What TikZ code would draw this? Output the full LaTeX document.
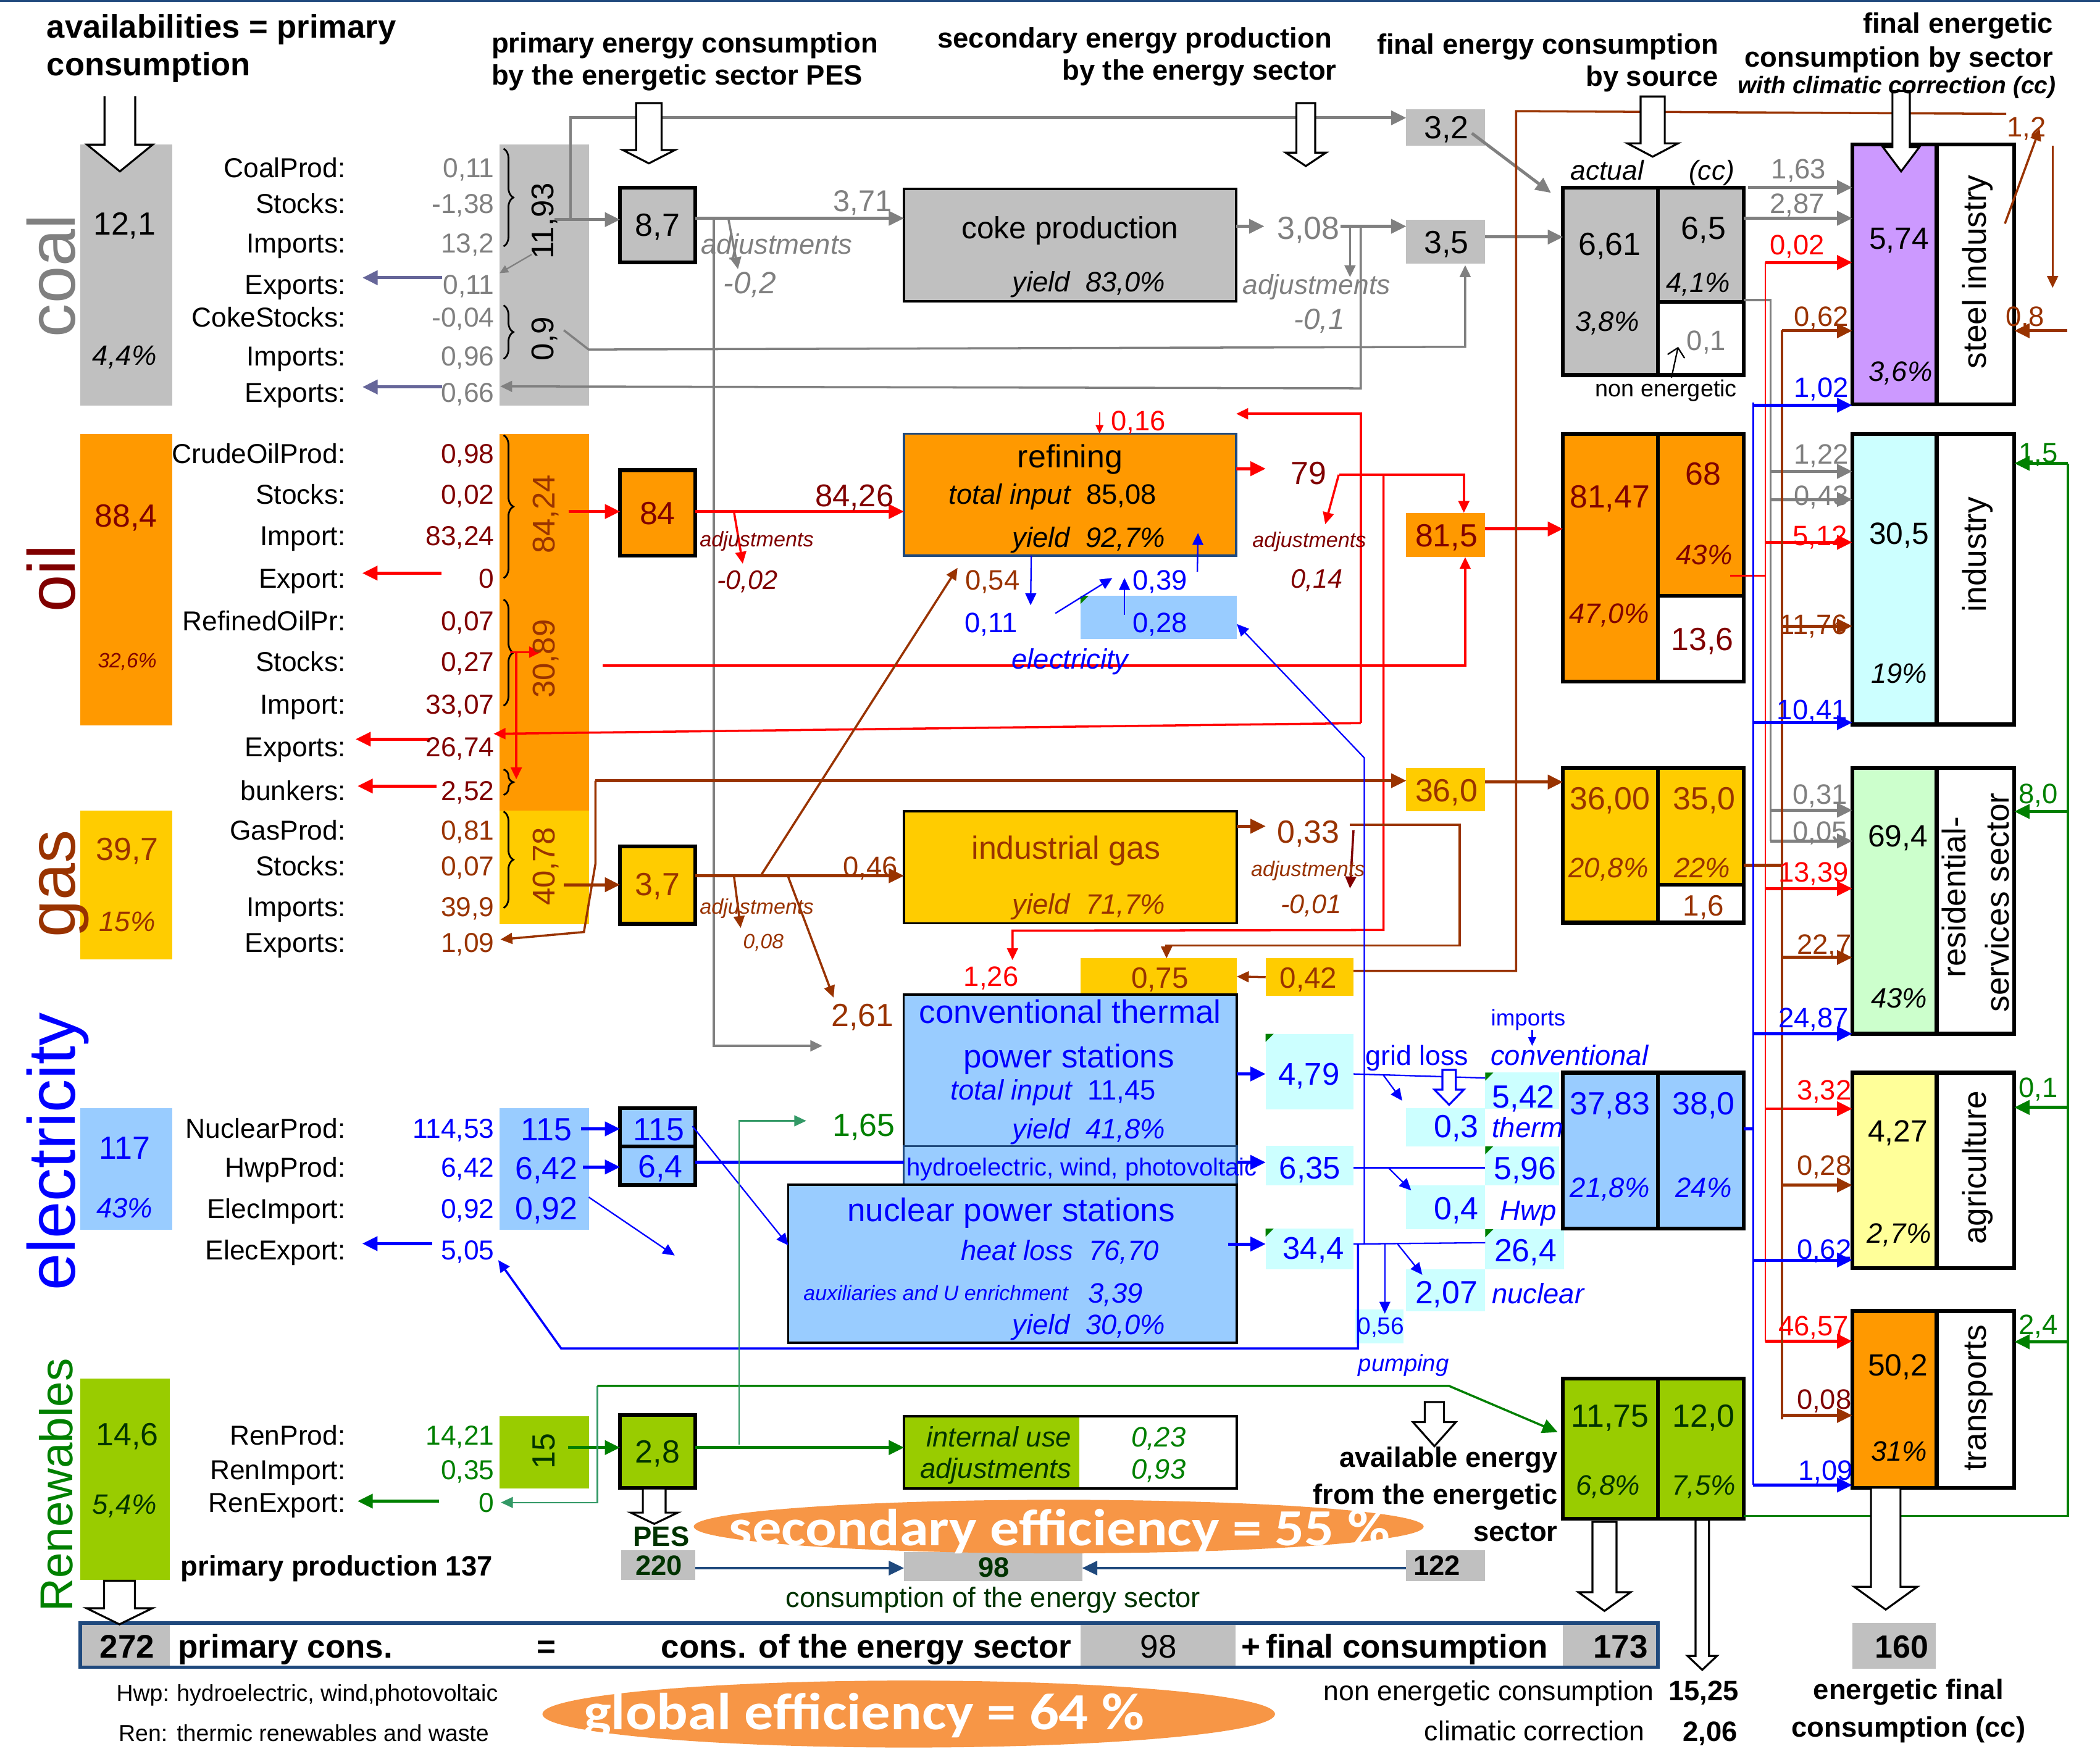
\documentclass[tikz,border=0pt]{standalone}
\usepackage{fontspec}
\setmainfont{Liberation Sans}
\newfontfamily\effont{Carlito}[FakeStretch=1.12]
\usetikzlibrary{arrows.meta,decorations.pathreplacing,shapes.geometric}
\newdimen\pxu \pxu=0.6155pt
\newcommand\fs[1]{\fontsize{#1\pxu}{1.25\dimexpr#1\pxu\relax}\selectfont}
\definecolor{cgray}{HTML}{808080}
\definecolor{boxgray}{HTML}{C0C0C0}
\definecolor{corange}{HTML}{FF9900}
\definecolor{cmaroon}{HTML}{800000}
\definecolor{cred}{HTML}{FF0000}
\definecolor{cgold}{HTML}{FFCC00}
\definecolor{cbrown}{HTML}{993300}
\definecolor{lblue}{HTML}{99CCFF}
\definecolor{cblue}{HTML}{0000FF}
\definecolor{lcyan}{HTML}{CCFFFF}
\definecolor{lgreen}{HTML}{99CC00}
\definecolor{cgreen}{HTML}{008000}
\definecolor{dgreen}{HTML}{003300}
\definecolor{cpurple}{HTML}{CC99FF}
\definecolor{mint}{HTML}{CCFFCC}
\definecolor{lyellow}{HTML}{FFFF99}
\definecolor{slate}{HTML}{666699}
\definecolor{effor}{HTML}{F79646}
\definecolor{navy}{HTML}{1F497D}
\definecolor{tealg}{HTML}{339966}
\newcommand\bx[6]{\node[#6,anchor=north west,inner sep=0pt,outer sep=0pt,minimum width={(#4-#2)*0.2169mm},minimum height={(#5-#3)*0.2169mm}] (#1) at (#2,#3) {};}
\newcommand\hol[8]{\path[fill=white,draw=#8,line width=0.9pt,line join=miter] (#2-#3,#5) -- (#2-#3,#6) -- (#2-#4,#6) -- (#2,#7) -- (#2+#4,#6) -- (#2+#3,#6) -- (#2+#3,#5) -- cycle; \coordinate (#1) at (#2,#7);}
\newcommand\holo[8]{\fill[white] (#2-#3,#5) -- (#2-#3,#6) -- (#2-#4,#6) -- (#2,#7) -- (#2+#4,#6) -- (#2+#3,#6) -- (#2+#3,#5) -- cycle; \draw[#8,line width=0.9pt,line join=miter] (#2-#3,#5) -- (#2-#3,#6) -- (#2-#4,#6) -- (#2,#7) -- (#2+#4,#6) -- (#2+#3,#6) -- (#2+#3,#5); \coordinate (#1) at (#2,#7);}
\newcommand\ctri[2]{\fill[cgreen] (#1,#2) -- (#1+6,#2) -- (#1,#2+6) -- cycle;}
\begin{document}
\begin{tikzpicture}[x=0.2169mm,y=-0.2169mm,
 fz/.style={inner sep=0pt,outer sep=0pt,font=\fs{#1},text height={0.716*#1*0.6155pt},text depth=0pt},
 fzb/.style={fz=#1,font=\fs{#1}\bfseries},
 fzi/.style={fz=#1,font=\fs{#1}\itshape},
 fzbi/.style={fz=#1,font=\fs{#1}\bfseries\itshape},
 lb/.style={fz=20.5,anchor=east},
 rot/.style={rotate=90},
 lk/.style={line width=1.4pt},
 lm/.style={line width=1.0pt},
 lt/.style={line width=0.65pt},
 arb/.style={-{Triangle[length=7pt,width=6.5pt]}},
 ar/.style={-{Triangle[length=5.5pt,width=5pt]}},
 ars/.style={-{Triangle[length=4pt,width=3.6pt]}},
 brc/.style={decorate,decoration={brace,amplitude=4.5pt},line width=0.8pt},
 bxk/.style={draw=black,line width=1.8pt},
 bxm/.style={draw=black,line width=1pt}]
\useasboundingbox (0,0) rectangle (1568,1306);
\fill[white] (0,0) rectangle (1568,1306);
\draw[navy,line width=0.8pt] (0,0.6) -- (1568,0.6);

% ---------------- boxes: primary
\bx{coalL}{60}{108}{128.5}{303}{fill=boxgray}
\bx{coalC}{373}{108}{440}{303}{fill=boxgray}
\bx{oilL}{60}{324}{128.5}{541.7}{fill=corange}
\bx{oilC}{373}{324}{440}{605.4}{fill=corange}
\bx{gasL}{60}{605.4}{128.6}{716.6}{fill=cgold}
\bx{gasC}{373}{605.4}{440}{690}{fill=cgold}
\bx{elL}{60}{827.6}{128.5}{918.5}{fill=lblue}
\bx{elC}{373}{827.6}{440}{918.5}{fill=lblue}
\bx{rnL}{60}{1029.5}{127}{1180}{fill=lgreen}
\bx{rnC}{373}{1057.6}{440}{1111.6}{fill=lgreen}
% PES boxes
\bx{b87}{463}{140}{519}{196}{fill=boxgray,bxk}
\bx{b84}{463}{351}{519}{415}{fill=corange,bxk}
\bx{b37}{463}{632}{519}{690}{fill=cgold,bxk}
\bx{b115}{463}{827.6}{519}{856}{fill=lblue,bxk}
\bx{b64}{463}{856}{519}{885}{fill=lblue,bxk}
\bx{b28}{463}{1056.6}{519}{1111}{fill=lgreen,bxk}
% transformation boxes
\bx{coke}{675}{141}{923}{225}{fill=boxgray,bxm}
\bx{ref}{675}{323.8}{923}{415}{fill=corange,draw=navy,line width=1pt}
\bx{c028}{806.7}{445}{923.5}{477}{fill=lblue}
\bx{igas}{675}{605.8}{923.5}{689.5}{fill=cgold,bxm}
\bx{b075}{806.7}{715.7}{923.5}{742.8}{fill=cgold}
\bx{b042}{945}{715.7}{1010.6}{743.7}{fill=cgold}
\bx{conv}{674.8}{742.8}{923.5}{856}{fill=lblue,bxm}
\bx{hyd}{674.8}{856}{923.5}{885}{fill=lblue,draw=navy,line width=1pt}
\bx{nuc}{588.6}{884.7}{923.5}{1002.8}{fill=lblue,bxm}
\bx{intL}{675}{1057.6}{806}{1111.6}{fill=lgreen}
\bx{intB}{675}{1057.6}{923.5}{1111.6}{bxm}
% small cells
\bx{b32}{1050}{81.6}{1109}{109}{fill=boxgray}
\bx{b35}{1050}{164}{1109}{197}{fill=boxgray}
\bx{b815}{1050}{383}{1109}{416}{fill=corange}
\bx{b360}{1050}{573.6}{1109}{606}{fill=cgold}
\bx{c479}{945}{772}{1010.6}{828.5}{fill=lcyan}
\bx{c635}{945}{855.7}{1010.6}{885}{fill=lcyan}
\bx{c344}{945}{917.5}{1010.6}{948}{fill=lcyan}
\bx{c03}{1050}{827.6}{1109}{856}{fill=lcyan}
\bx{c542}{1109}{801}{1164}{828}{fill=lcyan}
\bx{c596}{1109}{856}{1164}{885}{fill=lcyan}
\bx{c04}{1050}{885}{1109}{918}{fill=lcyan}
\bx{c264}{1109}{918}{1168}{948}{fill=lcyan}
\bx{c207}{1050}{948}{1109}{979}{fill=lcyan}
\bx{c056}{1012}{978}{1048}{1003}{fill=lcyan}
% final by source
\bx{csL}{1167}{140}{1238}{280}{fill=boxgray,bxk}
\bx{csRU}{1238}{140}{1302}{225.5}{fill=boxgray,bxk}
\bx{csRL}{1238}{225.5}{1302}{280}{fill=white,bxk}
\bx{osL}{1167}{324}{1238}{509}{fill=corange,bxk}
\bx{osRU}{1238}{324}{1302}{445}{fill=corange,bxk}
\bx{osRL}{1238}{445}{1302}{509}{fill=white,bxk}
\bx{gsL}{1167}{573.6}{1238}{689}{fill=cgold,bxk}
\bx{gsRU}{1238}{573.6}{1302}{660.6}{fill=cgold,bxk}
\bx{gsRL}{1238}{660.6}{1302}{689}{fill=white,bxk}
\bx{esL}{1167}{801}{1238}{917.5}{fill=lblue,bxk}
\bx{esR}{1238}{801}{1302}{917.5}{fill=lblue,bxk}
\bx{rsL}{1167}{1029.5}{1238}{1134}{fill=lgreen,bxk}
\bx{rsR}{1238}{1029.5}{1302}{1134}{fill=lgreen,bxk}
% sectors
\bx{stL}{1383}{108}{1446}{302}{fill=cpurple,bxk}
\bx{stR}{1446}{108}{1504}{302}{fill=white,bxk}
\bx{inL}{1383}{324}{1446}{541}{fill=lcyan,bxk}
\bx{inR}{1446}{324}{1504}{541}{fill=white,bxk}
\bx{reL}{1383}{573.6}{1446}{772}{fill=mint,bxk}
\bx{reR}{1446}{573.6}{1504}{772}{fill=white,bxk}
\bx{agL}{1383}{801}{1446}{947}{fill=lyellow,bxk}
\bx{agR}{1446}{801}{1504}{947}{fill=white,bxk}
\bx{trL}{1383}{979}{1446}{1111}{fill=corange,bxk}
\bx{trR}{1446}{979}{1504}{1111}{fill=white,bxk}
% bottom cells
\bx{b220}{464}{1157.7}{519}{1180}{fill=boxgray}
\bx{b98a}{675}{1159}{808}{1180.5}{fill=boxgray}
\bx{b122}{1050}{1157.7}{1109}{1180.5}{fill=boxgray}
\bx{b160}{1383}{1212}{1445.5}{1246}{fill=boxgray}
\bx{g272}{60}{1212}{127}{1245}{fill=boxgray}
\bx{g98}{806.7}{1212}{922.6}{1245}{fill=boxgray}
\bx{g173}{1167}{1212}{1238}{1245}{fill=boxgray}
\bx{band}{60}{1212}{1238}{1245}{draw=navy,line width=1.6pt}

% comment markers
\ctri{806.7}{445} \ctri{945}{772} \ctri{945}{917.5} \ctri{1109}{801} \ctri{1109}{856} \ctri{1109}{918}

% braces
\draw[brc] (376,111) -- (376,184);
\draw[brc] (376,228) -- (376,268);
\draw[brc] (376,325) -- (376,431.7);
\draw[brc] (376,447.7) -- (376,527);
\draw[brc] (376,574.6) -- (376,593.6);
\draw[brc] (376,606) -- (376,678);

% ---------------- coal connectors
\draw[cgray,lk,arb] (414,164) -- (b87.west|-0,164);
\draw[cgray,lk,arb] (426,164) -- (426,88) -- (b32.west|-0,88);
\draw[cgray,lt,ars] (397,190) -- (373,204);
\draw[slate,lk,arb] (330,207.4) -- (270.6,207.4);
\draw[slate,lk,arb] (330,289) -- (270.6,289);
\draw[cgray,lm,ar] (421,246.6) -- (439.5,261) -- (1094,259) -- (1094,198);
\draw[cgray,lk,arb] (b87.east|-0,163) -- (coke.west|-0,163);
\draw[cgray,lm,ar] (544,164) -- (551,201);
\draw[cgray,lm,ar] (533,163) -- (533,781) -- (614,781);
\draw[cgray,lk,arb] (coke.east|-0,169) -- (944,169);
\draw[cgray,lk,arb] (1001,169) -- (b35.west|-0,169);
\draw[cgray,lm,ar] (1016,169) -- (1016,290) -- (373.5,288.5);
\draw[cgray,lm,ar] (1008,169) -- (1008,207);
\draw[cgray,lk,arb] (1099,99.5) -- (1158,144);
\draw[cgray,lk,arb] (b35.east|-0,177) -- (csL.west|-0,177);
\draw[cgray,lk,arb] (1305,140) -- (stL.west|-0,140);
\draw[cgray,lk,arb] (1302,163) -- (stL.west|-0,163);
\draw[cgray,lm] (1302,224) -- (1322,224) -- (1322,628);
\foreach \yy/\bb in {352/inL,373/inL,605/reL,628/reL}{\draw[cgray,lk,arb] (1322,\yy) -- (\bb.west|-0,\yy);}

% ---------------- oil connectors
\draw[cred,lk,arb] (424.4,382) -- (b84.west|-0,382);
\draw[cred,lk,arb] (b84.east|-0,382) -- (ref.west|-0,382);
\draw[cred,lm,ar] (548,382) -- (554.6,421);
\draw[cred,lk,arb] (329.6,428) -- (270.5,428);
\draw[cred,lk,arb] (321,552) -- (265.5,552);
\draw[cred,lk,arb] (326,587) -- (267,587);
\draw[cred,lm,ar] (381,487) -- (404,487);
\draw[cred,lm,ar] (385.5,487.8) -- (385.5,582);
\draw[cred,lk,arb] (ref.east|-0,350) -- (945,350);
\draw[cred,lm,ar] (1000,354.5) -- (1093,354.5) -- (b815.north-|1093,0);
\draw[cred,lm,ar] (999.6,354.5) -- (989.5,391.5);
\draw[cred,lm,ar] (1016,540) -- (1016,309) -- (923,309);
\draw[cred,lm,ar] (1016,540) -- (368.5,548);
\draw[cred,lt,ars] (821,308) -- (ref.north-|821,0);
\draw[cred,lm,ar] (1033,354.5) -- (1033,694.5) -- (756,695) -- (756,717);
\draw[cred,lm,ar] (450,497) -- (1094,497) -- (b815.south-|1094,0);
\draw[cred,lk,arb] (b815.east|-0,395) -- (osL.west|-0,395);
\draw[cred,lm] (1292,430) -- (1318,430);
\draw[cred,lt] (1318,196) -- (1318,1002);
\foreach \yy/\bb in {196/stL,405/inL,663.5/reL,828/agL,1001.6/trL}{\draw[cred,lk,arb] (1318,\yy) -- (\bb.west|-0,\yy);}

% ---------------- gas connectors
\draw[cbrown,lk,arb] (421,660.7) -- (b37.west|-0,660.7);
\draw[cbrown,lk,arb] (444.6,583) -- (b360.west|-0,583);
\draw[cbrown,lm,ar] (444.6,583) -- (444.6,645) -- (436,696) -- (373.6,701.6);
\draw[cbrown,lk,arb] (b360.east|-0,584) -- (gsL.west|-0,584);
\draw[cbrown,lk,arb] (b37.east|-0,654) -- (igas.west|-0,654);
\draw[cbrown,lm,ar] (548,654) -- (553,693);
\draw[cbrown,lm,ar] (588.6,655) -- (622.4,745);
\draw[cbrown,lm,ar] (568,654) -- (715,424);
\draw[cbrown,lk,arb] (igas.east|-0,617) -- (945,617);
\draw[cbrown,lm,ar] (1008,616) -- (1090,616) -- (1090,706) -- (871,706) -- (b075.north-|871,0);
\draw[cmaroon,lm,ar] (1010.6,620) -- (1008,663.5);
\draw[cbrown,lm,ar] (b042.west) -- (b075.east);
\draw[cbrown,lm] (b042.east|-0,725) -- (1132,725) -- (1132,83) -- (1498,85);
\draw[cbrown,lm,ar] (1497,167) -- (1523,96);
\draw[cbrown,lm,ar] (1532.6,109) -- (1532.6,215);
\draw[cbrown,lk,arb] (1543.5,247) -- (stR.east|-0,247);
\draw[cbrown,lk] (1302,646) -- (1330.5,646);
\draw[cbrown,lm] (1330.5,246.6) -- (1330.5,1060);
\foreach \yy/\bb in {247/stL,467.5/inL,715/reL,885/agL,1057/trL}{\draw[cbrown,lk,arb] (1330.5,\yy) -- (\bb.west|-0,\yy);}

% ---------------- electricity connectors
\draw[cblue,lk,arb] (434,843) -- (b115.west|-0,843);
\draw[cblue,lk,arb] (435,871.5) -- (b64.west|-0,871.5);
\draw[cblue,lt,ar] (439.6,894) -- (503.8,937.6);
\draw[cblue,lt,ar] (517,841) -- (nuc.west|-0,930);
\draw[cblue,lk] (b64.east|-0,868) -- (hyd.west|-0,868);
\draw[cblue,lk,arb] (923.5,868) -- (c635.west|-0,868);
\draw[cblue,lk,arb] (conv.east|-0,802) -- (c479.west|-0,802);
\draw[cblue,lk,arb] (917,929) -- (c344.west|-0,929);
\draw[cblue,lk,arb] (322.8,928.7) -- (270.5,928.7);
\draw[cblue,lt] (c479.east|-0,802) -- (c542.west|-0,805);
\draw[cblue,lt,ar] (1033,803) -- (1047,822);
\draw[cblue,lt] (c635.east|-0,872) -- (c596.west|-0,872);
\draw[cblue,lt,ar] (1036.6,872) -- (1053.7,889);
\draw[cblue,lt] (c344.east|-0,929) -- (c264.west|-0,928);
\draw[cblue,lt,ar] (1043.5,929) -- (1062,952);
\draw[cblue,lt,ar] (1018.7,929) -- (1018.7,566) -- (c028.east|-0,466);
\draw[cblue,lm,ar] (1014,929) -- (1014,1007) -- (419,1007) -- (372,941);
\draw[cblue,lt,ar] (1034,929) -- (1034,981);
\draw[cblue,lt,ar] (770,415) -- (769.5,452);
\draw[cblue,lt,ar] (788,458) -- (830.5,431.6);
\draw[cblue,lt,ar] (839.6,459) -- (839.6,431.6);
\draw[cblue,lt,ar] (894,427) -- (894.5,398);
\draw[cblue,lt,ars] (1144,769) -- (1144,781);
\draw[cblue,lk] (esR.east|-0,843) -- (1309,843);
\draw[cblue,lm] (1309,300.5) -- (1309,1109);
\foreach \yy/\bb in {302.6/stL,539.6/inL,772/reL,941/agL,1109/trL}{\draw[cblue,lk,arb] (1309,\yy) -- (\bb.west|-0,\yy);}

% ---------------- renewables connectors
\draw[cgreen,lk,arb] (424,1081) -- (b28.west|-0,1081);
\draw[cgreen,lk,arb] (b28.east|-0,1081) -- (intB.west|-0,1081);
\draw[cgreen,lk,arb] (328,1121) -- (267,1121);
\draw[tealg,lt,ar] (446,1035) -- (446,1122) -- (374,1122);
\draw[cgreen,lm,arb] (446,1035) -- (1082,1035) -- (1163,1069.5);
\draw[tealg,lt,ar] (552,1079) -- (552,837) -- (602,837);
\draw[cgreen,lm] (rsR.east|-0,1132) -- (1544,1132) -- (1544,346);
\foreach \yy/\bb in {346/inR,606/reR,827/agR,1002/trR}{\draw[cgreen,lk,arb] (1544,\yy) -- (\bb.east|-0,\yy);}
\draw[navy,lm,arb] (b220.east|-0,1171) -- (b98a.west|-0,1171);
\draw[navy,lm,arb] (b122.west|-0,1171) -- (b98a.east|-0,1171);

% ---------------- hollow arrows
\holo{ha1}{89.5}{11.5}{24.5}{72}{108}{128}{black}
\hol{ha2}{484.5}{9.5}{19.5}{77}{112}{122}{black}
\hol{ha3}{975}{7}{15}{77}{114}{124}{black}
\hol{ha4}{1234}{9}{19}{72}{107}{117}{black}
\hol{ha5}{1419.5}{6.5}{13.5}{68}{110}{128}{black}
\hol{ha6}{488.5}{8.5}{17.5}{1111.6}{1129.6}{1138}{black}
\hol{ha7}{1082}{5}{11}{799}{813.7}{825}{cblue}
\hol{ha8}{1071}{7.2}{16}{1047}{1062}{1080}{black}
\hol{ha9}{89.2}{11.5}{24.5}{1180.5}{1201}{1213}{black}
\hol{ha10}{1198}{9}{19.5}{1136.5}{1189}{1203}{black}
\hol{ha11}{1271}{5}{11}{1135}{1236.6}{1247}{black}
\hol{ha12}{1408}{11}{23.5}{1111}{1185}{1202}{black}

% ---------------- headers
\node[fzb=24.3,anchor=west] (hA1) at (35,19.5) {availabilities = primary};
\node[fzb=24.3,anchor=west] (hA2) at (35,47.7) {consumption};
\node[fzb=21,anchor=west] (hB1) at (367,32) {primary energy consumption};
\node[fzb=21,anchor=west] (hB2) at (367,56) {by the energetic sector PES};
\node[fzb=21,anchor=west] (hC1) at (700,28) {secondary energy production};
\node[fzb=21,anchor=east] (hC2) at (998,52.4) {by the energy sector};
\node[fzb=21,anchor=east] (hD1) at (1283,32.7) {final energy consumption};
\node[fzb=21,anchor=east] (hD2) at (1283,56.6) {by source};
\node[fzb=21,anchor=east] (hE1) at (1533,17) {final energetic};
\node[fzb=21,anchor=east] (hE2) at (1533,42.4) {consumption by sector};
\node[fzbi=18,anchor=east] (hE3) at (1535,63.5) {with climatic correction (cc)};

% ---------------- big source labels
\node[rot,anchor=base,inner sep=0pt,font=\fs{50},text=cgray] (tcoal) at (56,206) {coal};
\node[rot,anchor=base,inner sep=0pt,font=\fs{50},text=cmaroon] (toil) at (56,432) {oil};
\node[rot,anchor=base,inner sep=0pt,font=\fs{50},text=cbrown] (tgas) at (56,660) {gas};
\node[rot,anchor=base,inner sep=0pt,font=\fs{50},text=cblue] (telec) at (56,860) {electricity};
\node[rot,anchor=base,inner sep=0pt,font=\fs{34.5},text=cgreen] (tren) at (54,1109) {Renewables};

% ---------------- coal texts
\node[fz=24] (t121) at (93,167) {12,1};
\node[fzi=21] (t44) at (93,265) {4,4\%};
\node[lb] (lc1) at (258,125) {CoalProd:};
\node[lb] (lc2) at (258,152) {Stocks:};
\node[lb] (lc3) at (258,181.5) {Imports:};
\node[lb] (lc4) at (258,212.5) {Exports:};
\node[lb] (lc5) at (258,237) {CokeStocks:};
\node[lb] (lc6) at (258,265.7) {Imports:};
\node[lb] (lc7) at (258,293) {Exports:};
\node[lb,text=cgray] (vc1) at (369,125) {0,11};
\node[lb,text=cgray] (vc2) at (369,152) {-1,38};
\node[lb,text=cgray] (vc3) at (369,181.5) {13,2};
\node[lb,text=cgray] (vc4) at (369,212.5) {0,11};
\node[lb,text=cgray] (vc5) at (369,237) {-0,04};
\node[lb,text=cgray] (vc6) at (369,265.7) {0,96};
\node[lb,text=cgray] (vc7) at (369,293) {0,66};
\node[fz=23.5,rot] (t1193) at (405,165) {11,93};
\node[fz=23.5,rot] (t09) at (405,253) {0,9};
\node[fz=24] (t87) at (491,168) {8,7};
\node[fz=22.5,text=cgray] (t371) at (644,150) {3,71};
\node[fzi=21,text=cgray] (tadj1) at (580,182) {adjustments};
\node[fzi=23,text=cgray] (tadj1v) at (560,211) {-0,2};
\node[fz=23] (tcoke) at (799,170) {coke production};
\node[fzi=21] (tcokey) at (813,210.5) {yield\ \ 83,0\%};
\node[fz=24,text=cgray] (t308) at (977,170) {3,08};
\node[fzi=20.5,text=cgray] (tadj2) at (983,212.5) {adjustments};
\node[fzi=22,text=cgray] (tadj2v) at (985,238) {-0,1};
\node[fz=24] (t32) at (1080,95) {3,2};
\node[fz=24] (t35) at (1080,180.5) {3,5};
\node[fzi=20.5] (tact) at (1200,127) {actual};
\node[fzi=20.5] (tcc) at (1278,127) {(cc)};
\node[fz=24] (t661) at (1202,182) {6,61};
\node[fz=24] (t65) at (1272,170) {6,5};
\node[fzi=21] (t41) at (1268,211) {4,1\%};
\node[fzi=21] (t38) at (1200,240) {3,8\%};
\node[fz=21,text=cgray] (t01) at (1274,254) {0,1};
\draw[black,lt,-{Straight Barb[length=4pt]}] (1248,282) -- (1253,259);
\node[fz=17.5] (tnon) at (1244,290) {non energetic};
\node[fz=21,text=cgray] (t163) at (1343,126) {1,63};
\node[fz=21,text=cgray] (t287) at (1342,152) {2,87};
\node[fz=23] (t574) at (1418,178) {5,74};
\node[fzi=21] (t36) at (1419,277) {3,6\%};
\node[fz=24.6,rot] (tsteel) at (1474,203) {steel industry};
\node[fz=21,text=cbrown] (t12) at (1513,94.5) {1,2};
\node[fz=21,text=cbrown] (t08s) at (1512,236) {0,8};

% ---------------- oil texts
\node[fz=24,text=cmaroon] (t884) at (94,385) {88,4};
\node[fzi=15.5,text=cmaroon] (t326) at (95,493) {32,6\%};
\node[lb] (lo1) at (258,338.6) {CrudeOilProd:};
\node[lb] (lo2) at (258,369) {Stocks:};
\node[lb] (lo3) at (258,400) {Import:};
\node[lb] (lo4) at (258,431.8) {Export:};
\node[lb] (lo5) at (258,463.4) {RefinedOilPr:};
\node[lb] (lo6) at (258,494) {Stocks:};
\node[lb] (lo7) at (258,526) {Import:};
\node[lb] (lo8) at (258,557.7) {Exports:};
\node[lb] (lo9) at (258,590.6) {bunkers:};
\node[lb,text=cmaroon] (vo1) at (369,338.6) {0,98};
\node[lb,text=cmaroon] (vo2) at (369,369) {0,02};
\node[lb,text=cmaroon] (vo3) at (369,400) {83,24};
\node[lb,text=cmaroon] (vo4) at (369,431.8) {0};
\node[lb,text=cmaroon] (vo5) at (369,463.4) {0,07};
\node[lb,text=cmaroon] (vo6) at (369,494) {0,27};
\node[lb,text=cmaroon] (vo7) at (369,526) {33,07};
\node[lb,text=cmaroon] (vo8) at (369,557.7) {26,74};
\node[lb,text=cmaroon] (vo9) at (369,590.6) {2,52};
\node[fz=23.5,rot,text=cbrown] (t8424) at (405.7,384) {84,24};
\node[fz=23.5,rot,text=cbrown] (t3089) at (405.7,492) {30,89};
\node[fz=24,text=cmaroon] (t84) at (491,383) {84};
\node[fz=23.5,text=cmaroon] (t8426) at (638,370) {84,26};
\node[fzi=15.8,text=cmaroon] (tadj3) at (565,402.7) {adjustments};
\node[fzi=20,text=cmaroon] (tadj3v) at (558,433) {-0,02};
\node[fz=24] (tref) at (799,340.5) {refining};
\node[fz=21] (tref2) at (786,369) {\itshape total input\upshape\ \ 85,08};
\node[fzi=21] (tref3) at (813,401) {yield\ \ 92,7\%};
\node[fz=21,text=cred] (t016) at (850,314) {0,16};
\node[fz=24,text=cmaroon] (t79) at (977,353) {79};
\node[fzi=15.8,text=cmaroon] (tadj4) at (977.6,403) {adjustments};
\node[fzi=20,text=cmaroon] (tadj4v) at (983,432) {0,14};
\node[fz=21,text=cbrown] (t054) at (741,433) {0,54};
\node[fz=21,text=cblue] (t011) at (740,465) {0,11};
\node[fz=21,text=cblue] (t039) at (866,433) {0,39};
\node[fz=21,text=cblue] (t028) at (866,465) {0,28};
\node[fzi=21,text=cblue] (telc) at (799,492) {electricity};
\node[fz=24,text=cmaroon] (t815) at (1080,399.5) {81,5};
\node[fz=24,text=cmaroon] (t8147) at (1202,370.6) {81,47};
\node[fz=24,text=cmaroon] (t68) at (1271.6,353.6) {68};
\node[fzi=21,text=cmaroon] (t43o) at (1272.5,414) {43\%};
\node[fzi=21,text=cmaroon] (t470) at (1201.5,458) {47,0\%};
\node[fz=24,text=cmaroon] (t136) at (1271,477) {13,6};
\node[fz=23] (t305) at (1418,398) {30,5};
\node[fzi=21] (t19) at (1418,502.6) {19\%};
\node[fz=24.6,rot] (tind) at (1474,414) {industry};

% ---------------- gas texts
\node[fz=24,text=cbrown] (t397) at (95,634) {39,7};
\node[fzi=21,text=cbrown] (t15) at (95,688) {15\%};
\node[lb] (lg1) at (258,620) {GasProd:};
\node[lb] (lg2) at (258,646.7) {Stocks:};
\node[lb] (lg3) at (258,677) {Imports:};
\node[lb] (lg4) at (258,703.6) {Exports:};
\node[lb,text=cbrown] (vg1) at (369,620) {0,81};
\node[lb,text=cbrown] (vg2) at (369,646.7) {0,07};
\node[lb,text=cbrown] (vg3) at (369,677) {39,9};
\node[lb,text=cbrown] (vg4) at (369,703.6) {1,09};
\node[fz=23.5,rot,text=cbrown] (t4078) at (405.7,647) {40,78};
\node[fz=24,text=cbrown] (t37) at (491,660) {3,7};
\node[fz=21,text=cbrown] (t046) at (650,647) {0,46};
\node[fzi=15.8,text=cbrown] (tadj5) at (565,677) {adjustments};
\node[fzi=15.5,text=cbrown] (tadj5v) at (570,703) {0,08};
\node[fz=24,text=cbrown] (t261) at (644,758) {2,61};
\node[fz=24,text=cbrown] (tigas) at (796,633) {industrial gas};
\node[fzi=21,text=cbrown] (tigas2) at (813,675) {yield\ \ 71,7\%};
\node[fz=24,text=cbrown] (t033) at (977,621) {0,33};
\node[fzi=15.8,text=cbrown] (tadj6) at (976.6,648.7) {adjustments};
\node[fzi=20,text=cbrown] (tadj6v) at (979,675) {-0,01};
\node[fz=21,text=cred] (t126) at (740,729) {1,26};
\node[fz=22,text=cbrown] (t075) at (866,730) {0,75};
\node[fz=22,text=cbrown] (t042) at (977,730) {0,42};
\node[fz=24,text=cbrown] (t360) at (1080,590) {36,0};
\node[fz=24,text=cbrown] (t3600) at (1202,596) {36,00};
\node[fz=24,text=cbrown] (t350) at (1272.5,596) {35,0};
\node[fzi=21,text=cbrown] (t208) at (1201,648) {20,8\%};
\node[fzi=21,text=cbrown] (t22) at (1271,648) {22\%};
\node[fz=22,text=cbrown] (t16) at (1272,676) {1,6};
\node[fz=23] (t694) at (1417,624) {69,4};
\node[fzi=21] (t43r) at (1418,745) {43\%};
\node[fz=24.6,rot] (tres1) at (1459,670) {residential-};
\node[fz=24.6,rot] (tres2) at (1491,674) {services sector};

% ---------------- electricity texts
\node[fz=24,text=cblue] (t117) at (93,857) {117};
\node[fzi=21,text=cblue] (t43e) at (93,902) {43\%};
\node[lb] (le1) at (258,842.4) {NuclearProd:};
\node[lb] (le2) at (258,871.5) {HwpProd:};
\node[lb] (le3) at (258,902.6) {ElecImport:};
\node[lb] (le4) at (258,933.4) {ElecExport:};
\node[lb,text=cblue] (ve1) at (369,842.4) {114,53};
\node[lb,text=cblue] (ve2) at (369,871.5) {6,42};
\node[lb,text=cblue] (ve3) at (369,902.6) {0,92};
\node[lb,text=cblue] (ve4) at (369,933.4) {5,05};
\node[fz=24,text=cblue] (t115a) at (408,843) {115};
\node[fz=24,text=cblue] (t642a) at (408,872) {6,42};
\node[fz=24,text=cblue] (t092a) at (408,902) {0,92};
\node[fz=24,text=cblue] (t115b) at (492,843) {115};
\node[fz=24,text=cblue] (t64b) at (493,871) {6,4};
\node[fz=24.5,text=cblue] (tcv1) at (799,755.5) {conventional thermal};
\node[fz=24.5,text=cblue] (tcv2) at (798,788.4) {power stations};
\node[fz=21,text=cblue] (tcv3) at (786.4,814) {\itshape total input\upshape\ \ 11,45};
\node[fzi=21,text=cblue] (tcv4) at (813,843) {yield\ \ 41,8\%};
\node[fz=18.5,text=cblue,anchor=west] (thyd) at (677,871.5) {hydroelectric, wind, photovoltaic};
\node[fz=24.5,text=cblue] (tnu1) at (755,903.6) {nuclear power stations};
\node[fzi=21,text=cblue] (tnu2) at (791.5,933.6) {heat loss\ \ 76,70};
\node[fzi=15.7,text=cblue,anchor=west] (tnu3) at (600,965.5) {auxiliaries and U enrichment};
\node[fzi=21,text=cblue] (tnu4) at (833,965.5) {3,39};
\node[fzi=21,text=cblue] (tnu5) at (813,989) {yield\ \ 30,0\%};
\node[fz=23.5,text=cblue] (t479) at (977.4,802) {4,79};
\node[fz=23.5,text=cblue] (t635) at (978,872) {6,35};
\node[fz=23.5,text=cblue] (t344) at (980.6,932) {34,4};
\node[fz=20.7,text=cblue] (tgrid) at (1058,788) {grid loss};
\node[fz=17,text=cblue] (timp) at (1141,760) {imports};
\node[fzi=21,text=cblue,anchor=west] (tconv) at (1113,788) {conventional};
\node[fz=24,text=cblue,anchor=east] (t03) at (1104,841) {0,3};
\node[fz=24,text=cblue] (t542) at (1137.5,818.6) {5,42};
\node[fzi=21,text=cblue,anchor=west] (ttherm) at (1114,842) {therm};
\node[fz=24,text=cblue] (t596) at (1138.6,872) {5,96};
\node[fz=24,text=cblue,anchor=east] (t04) at (1104,902) {0,4};
\node[fzi=21,text=cblue] (thwp) at (1141,903.6) {Hwp};
\node[fz=24,text=cblue] (t264) at (1139,933.6) {26,4};
\node[fz=24,text=cblue] (t207) at (1080,965) {2,07};
\node[fzi=21,text=cblue,anchor=west] (tnucl) at (1114,966) {nuclear};
\node[fz=18,text=cblue] (t056) at (1031,990) {0,56};
\node[fzi=17.7,text=cblue] (tpump) at (1048,1018) {pumping};
\node[fz=24,text=cblue] (t3783) at (1202,824) {37,83};
\node[fz=24,text=cblue] (t380) at (1272,824) {38,0};
\node[fzi=21,text=cblue] (t218) at (1202,886.6) {21,8\%};
\node[fzi=21,text=cblue] (t24) at (1272,886.6) {24\%};
\node[fz=23] (t427) at (1417,844.6) {4,27};
\node[fzi=21] (t27) at (1418,921) {2,7\%};
\node[fz=24.6,rot] (tagr) at (1474,872) {agriculture};

% ---------------- renewables texts
\node[fz=24,text=dgreen] (t146) at (95,1071) {14,6};
\node[fzi=21,text=dgreen] (t54) at (93,1123) {5,4\%};
\node[lb] (lr1) at (258,1071.5) {RenProd:};
\node[lb] (lr2) at (258,1097.5) {RenImport:};
\node[lb] (lr3) at (258,1122) {RenExport:};
\node[lb,text=cgreen] (vr1) at (369,1071.5) {14,21};
\node[lb,text=cgreen] (vr2) at (369,1097.5) {0,35};
\node[lb,text=cgreen] (vr3) at (369,1122) {0};
\node[fz=24,rot,text=dgreen] (t15r) at (405.5,1083.5) {15};
\node[fz=24,text=dgreen] (t28) at (491,1084) {2,8};
\node[fz=24,text=cgreen] (t165) at (645,840) {1,65};
\node[fzi=21,text=dgreen,anchor=east] (tint1) at (800,1072.7) {internal use};
\node[fzi=21,text=dgreen,anchor=east] (tint2) at (800,1096.4) {adjustments};
\node[fzi=21,text=cgreen] (tint3) at (865,1072.7) {0,23};
\node[fzi=21,text=cgreen] (tint4) at (865,1097) {0,93};
\node[fz=24,text=dgreen] (t1175) at (1202,1057) {11,75};
\node[fz=24,text=dgreen] (t120) at (1272,1057) {12,0};
\node[fzi=21,text=dgreen] (t68r) at (1200.6,1109) {6,8\%};
\node[fzi=21,text=dgreen] (t75) at (1272,1109) {7,5\%};
\node[fz=23] (t502) at (1417,1019) {50,2};
\node[fzi=21] (t31) at (1418,1083.6) {31\%};
\node[fz=24.6,rot] (ttra) at (1474,1044) {transports};

% ---------------- distribution labels
\node[fz=21,text=cred] (d1) at (1342,182.6) {0,02};
\node[fz=21,text=cbrown] (d2) at (1360,236) {0,62};
\node[fz=21,text=cblue] (d3) at (1360,289) {1,02};
\node[fz=21,text=cgray] (d4) at (1360,339) {1,22};
\node[fz=21,text=cgray] (d5) at (1360,370) {0,43};
\node[fz=21,text=cred] (d6) at (1359,400) {5,12};
\node[fz=21,text=cbrown] (d7) at (1354,466) {11,76};
\node[fz=21,text=cblue] (d8) at (1353,530) {10,41};
\node[fz=21,text=cgray] (d9) at (1359,593) {0,31};
\node[fz=21,text=cgray] (d10) at (1359,620.6) {0,05};
\node[fz=21,text=cred] (d11) at (1354,651) {13,39};
\node[fz=21,text=cbrown] (d12) at (1362,705) {22,7};
\node[fz=21,text=cblue] (d13) at (1354,760) {24,87};
\node[fz=21,text=cred] (d14) at (1362,814) {3,32};
\node[fz=21,text=cbrown] (d15) at (1362,870) {0,28};
\node[fz=21,text=cblue] (d16) at (1362,933) {0,62};
\node[fz=21,text=cred] (d17) at (1354,990) {46,57};
\node[fz=21,text=cmaroon] (d18) at (1362,1045) {0,08};
\node[fz=21,text=cblue] (d19) at (1363,1098) {1,09};
\node[fz=21,text=cgreen] (d20) at (1522,338) {1,5};
\node[fz=21,text=cgreen] (d21) at (1522,592.5) {8,0};
\node[fz=21,text=cgreen] (d22) at (1522,812) {0,1};
\node[fz=21,text=cgreen] (d23) at (1522,989) {2,4};

% ---------------- bottom texts
\node[fzb=21,text=dgreen] (tpes) at (493.7,1147) {PES};
\node[fzb=21,text=dgreen] (t220) at (492,1169) {220};
\node[fzb=21,text=dgreen] (t98a) at (742,1170) {98};
\node[fzb=21] (t122) at (1073,1169) {122};
\node[fz=21,text=dgreen] (tcons) at (741.5,1193) {consumption of the energy sector};
\node[fzb=21,anchor=west] (tpp) at (135,1169.5) {primary production 137};
\node[fzb=21,anchor=east] (tav1) at (1163,1088) {available energy};
\node[fzb=21,anchor=east] (tav2) at (1163,1116) {from the energetic};
\node[fzb=21,anchor=east] (tav3) at (1163,1143.6) {sector};
\node[ellipse,fill=effor,inner sep=0pt,minimum width={545*0.2169mm},minimum height={40*0.2169mm}] (ell1) at (790.5,1140) {};
\node[anchor=base,inner sep=0pt,font=\effont\bfseries\fs{39},text=white] (eff1) at (791,1154) {secondary efficiency = 55 \%};
\node[fzb=24.5] (t272) at (95,1229.5) {272};
\node[fzb=24.5,anchor=west] (tpc) at (133,1229.5) {primary cons.};
\node[fzb=24.5] (teq) at (408,1229.5) {=};
\node[fzb=24.5,anchor=east] (tcoes) at (800,1229.5) {cons. of the energy sector};
\node[fz=24.5] (t98b) at (865,1229.5) {98};
\node[fzb=24.5,anchor=west] (tfc) at (927,1229.5) {+\,final consumption};
\node[fzb=24.5] (t173) at (1210,1229.5) {173};
\node[fzb=24] (t160) at (1420,1229.5) {160};
\node[fzb=21] (tef1) at (1425,1261.5) {energetic final};
\node[fzb=21] (tef2) at (1425,1289.5) {consumption (cc)};
\node[fz=20.6,anchor=east] (tnec) at (1235,1262.6) {non energetic consumption};
\node[fzb=21] (t1525) at (1272,1262.6) {15,25};
\node[fz=20.6,anchor=east] (tclc) at (1228,1292.7) {climatic correction};
\node[fzb=21] (t206) at (1277,1292.7) {2,06};
\node[fz=17.3,anchor=west] (thw1) at (87,1264) {Hwp:};
\node[fz=17.3,anchor=west] (thw2) at (132,1264) {hydroelectric, wind,photovoltaic};
\node[fz=17.3,anchor=west] (trn1) at (88.6,1294) {Ren:};
\node[fz=17.3,anchor=west] (trn2) at (132,1294) {thermic renewables and waste};
\node[ellipse,fill=effor,inner sep=0pt,minimum width={547*0.2169mm},minimum height={50*0.2169mm}] (ell2) at (678.5,1280) {};
\node[anchor=base,inner sep=0pt,font=\effont\bfseries\fs{39},text=white] (eff2) at (645,1291.5) {global efficiency = 64 \%};
\end{tikzpicture}
\end{document}
